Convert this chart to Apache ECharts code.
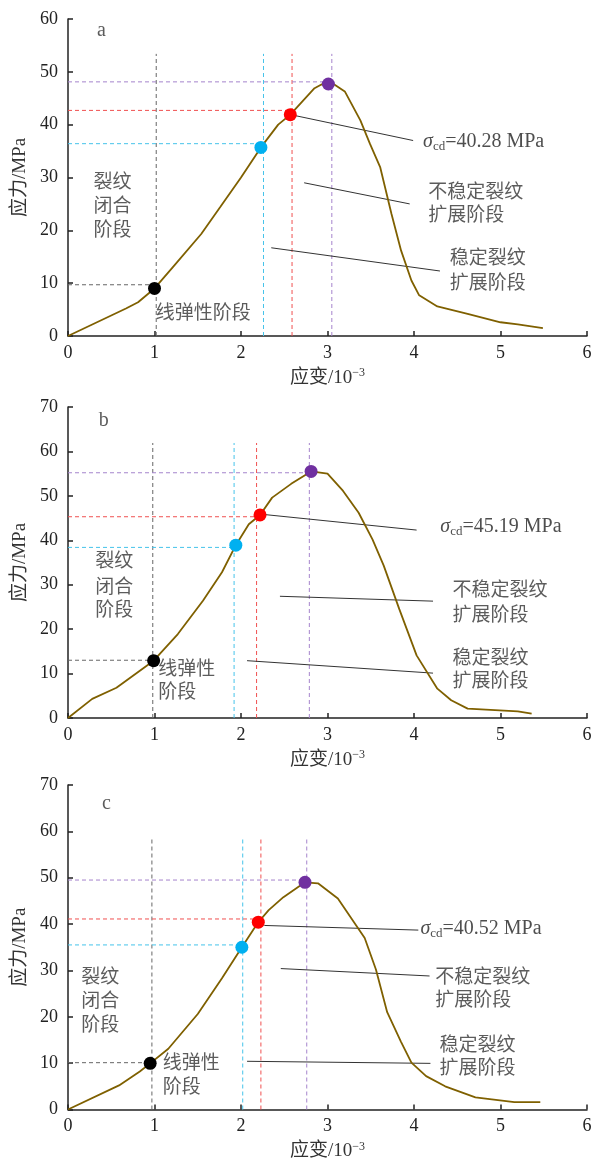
<!DOCTYPE html>
<html>
<head>
<meta charset="utf-8">
<script src="https://cdn.jsdelivr.net/npm/echarts@6/dist/echarts.min.js"></script>
<style>
  html, body { margin: 0; padding: 0; background: #fff; }
  #chart { width: 600px; height: 1162px; }
</style>
</head>
<body>
<div id="chart"></div>
<script>
// 应力-应变曲线 a
const strainA = [0, 0.67, 0.81, 1.0, 1.21, 1.54, 1.76, 2.0, 2.23, 2.43, 2.57, 2.85, 2.93, 3.01, 3.07, 3.2, 3.38, 3.49, 3.61, 3.74, 3.85, 3.97, 4.06, 4.27, 4.62, 5.0, 5.2, 5.49]
const stressA = [0, 5.2, 6.4, 9.0, 13.0, 19.3, 24.4, 30.0, 35.7, 40.0, 41.9, 46.9, 47.6, 47.7, 47.7, 46.3, 40.8, 36.4, 31.9, 23.1, 16.2, 10.5, 7.7, 5.6, 4.2, 2.6, 2.2, 1.5]
// 曲线 b
const strainB = [0, 0.28, 0.56, 0.99, 1.27, 1.56, 1.78, 1.94, 2.09, 2.22, 2.36, 2.58, 2.81, 3.0, 3.18, 3.36, 3.52, 3.65, 3.83, 4.03, 4.27, 4.43, 4.62, 5.2, 5.36]
const stressB = [0, 4.3, 6.8, 12.9, 18.9, 26.4, 32.8, 38.9, 43.6, 45.7, 49.6, 52.7, 55.5, 55.0, 51.1, 46.2, 40.2, 34.3, 24.5, 14.1, 6.6, 4.0, 2.1, 1.5, 1.0]
// 曲线 c
const strainC = [0, 0.59, 0.83, 0.95, 1.16, 1.50, 1.78, 2.01, 2.14, 2.20, 2.32, 2.49, 2.74, 2.89, 3.12, 3.43, 3.56, 3.69, 3.85, 3.97, 4.14, 4.36, 4.71, 5.16, 5.46]
const stressC = [0, 5.2, 8.2, 9.95, 13.1, 20.6, 28.3, 35.0, 38.7, 40.4, 43.0, 45.8, 49.0, 48.8, 45.5, 37.0, 30.2, 21.0, 14.6, 10.1, 7.2, 5.0, 2.6, 1.6, 1.6]

// 特征点：闭合、起裂、损伤(σcd)、峰值
const keyColors = ['#000000', '#00b0f0', '#ff0000', '#7030a0']
const guideColors = ['#666666', '#45c3ea', '#f05050', '#a584cc']
const keyStrainA = [1.0, 2.23, 2.57, 3.01]
const keyStressA = [9.0, 35.7, 41.9, 47.7]
const keyStrainB = [0.99, 1.94, 2.22, 2.81]
const keyStressB = [12.9, 38.9, 45.7, 55.5]
const keyStrainC = [0.95, 2.01, 2.20, 2.74]
const keyStressC = [9.95, 35.0, 40.4, 49.0]

// 虚线位置
const guideXA = [1.02, 2.26, 2.59, 3.05]
const guideYA = [9.7, 36.4, 42.7, 48.1]
const guideXB = [0.98, 1.92, 2.18, 2.79]
const guideYB = [13.0, 38.4, 45.3, 55.2]
const guideXC = [0.97, 2.02, 2.23, 2.76]
const guideYC = [10.1, 35.5, 41.1, 49.5]
const guideTop = [53.4, 61.9, 58.3]

// 引线
const leadersA = [[[2.63, 41.7], [3.99, 37.0]], [[2.73, 29.0], [3.95, 25.0]], [[2.35, 16.7], [4.30, 12.3]]]
const leadersB = [[[2.27, 45.8], [4.03, 42.3]], [[2.45, 27.4], [4.22, 26.3]], [[2.07, 12.9], [4.22, 10.1]]]
const leadersC = [[[2.27, 39.7], [4.05, 38.7]], [[2.46, 30.4], [4.18, 28.8]], [[2.07, 10.4], [4.19, 9.95]]]

const sigmaCd = ['40.28', '45.19', '40.52']
const yMax = [60, 70, 70]

// 文字 [x, y, 文本]
const textsA = [[0.34, 57.7, 'a'], [0.30, 28.9, '裂纹'], [0.30, 24.3, '闭合'], [0.30, 19.7, '阶段'], [1.02, 4.1, '线弹性阶段'],
  [4.17, 27.0, '不稳定裂纹'], [4.17, 22.6, '扩展阶段'], [4.42, 14.4, '稳定裂纹'], [4.42, 9.8, '扩展阶段']]
const textsB = [[0.36, 66.8, 'b'], [0.32, 35.0, '裂纹'], [0.32, 29.2, '闭合'], [0.32, 24.0, '阶段'], [1.05, 10.7, '线弹性'], [1.05, 5.5, '阶段'],
  [4.45, 28.4, '不稳定裂纹'], [4.45, 22.9, '扩展阶段'], [4.45, 13.2, '稳定裂纹'], [4.45, 7.9, '扩展阶段']]
const textsC = [[0.40, 65.9, 'c'], [0.16, 28.3, '裂纹'], [0.16, 23.1, '闭合'], [0.16, 18.0, '阶段'], [1.10, 9.6, '线弹性'], [1.10, 4.6, '阶段'],
  [4.25, 28.3, '不稳定裂纹'], [4.25, 23.2, '扩展阶段'], [4.30, 13.6, '稳定裂纹'], [4.30, 8.7, '扩展阶段']]
const sigmaPos = [[4.11, 36.7], [4.31, 42.9], [4.08, 38.9]]

const panels = [
  {strain: strainA, stress: stressA, kx: keyStrainA, ky: keyStressA, gx: guideXA, gy: guideYA, leaders: leadersA, texts: textsA},
  {strain: strainB, stress: stressB, kx: keyStrainB, ky: keyStressB, gx: guideXB, gy: guideYB, leaders: leadersB, texts: textsB},
  {strain: strainC, stress: stressC, kx: keyStrainC, ky: keyStressC, gx: guideXC, gy: guideYC, leaders: leadersC, texts: textsC}
]

const serif = '"Liberation Serif", "Times New Roman", serif'
const cjk = '"Liberation Serif", "Noto Sans CJK SC", serif'

const grids = [
  {left: 68, width: 519, top: 19, height: 317},
  {left: 68, width: 519, top: 407, height: 311},
  {left: 68, width: 519, top: 785, height: 328}
]

const xAxes = []
const yAxes = []
const series = []

panels.forEach((p, i) => {
  xAxes.push({
    type: 'value', gridIndex: i, min: 0, max: 6, interval: 1,
    name: '应变/10{sup|−3}', nameLocation: 'middle', nameGap: 31,
    nameTextStyle: {fontFamily: cjk, fontSize: 19, color: '#333',
      rich: {sup: {fontFamily: serif, fontSize: 12, color: '#333', padding: [0, 0, 10, 0]}}},
    axisLine: {lineStyle: {color: '#222', width: 1.5}},
    axisTick: {inside: true, length: 5, lineStyle: {color: '#222', width: 1.5}},
    axisLabel: {fontFamily: serif, fontSize: 18, color: '#222', margin: 8},
    splitLine: {show: false}
  })
  yAxes.push({
    type: 'value', gridIndex: i, min: 0, max: yMax[i], interval: 10,
    name: '应力/MPa', nameLocation: 'middle', nameGap: 35,
    nameTextStyle: {fontFamily: cjk, fontSize: 19, color: '#333'},
    axisLine: {show: true, lineStyle: {color: '#222', width: 1.5}},
    axisTick: {show: true, inside: true, length: 5, lineStyle: {color: '#222', width: 1.5}},
    axisLabel: {fontFamily: serif, fontSize: 18, color: '#222', margin: 10},
    splitLine: {show: false}
  })

  // 虚线
  p.gx.forEach((gx, k) => {
    const dashStyle = {color: guideColors[k], width: 1, type: [4, 3]}
    series.push({
      type: 'line', xAxisIndex: i, yAxisIndex: i, symbol: 'none', silent: true, z: 1,
      data: [[0, p.gy[k]], [gx, p.gy[k]]], lineStyle: dashStyle
    })
    series.push({
      type: 'line', xAxisIndex: i, yAxisIndex: i, symbol: 'none', silent: true, z: 1,
      data: [[gx, 0], [gx, guideTop[i]]], lineStyle: dashStyle
    })
  })

  // 引线
  p.leaders.forEach(seg => {
    series.push({
      type: 'line', xAxisIndex: i, yAxisIndex: i, symbol: 'none', silent: true, z: 2,
      data: seg, lineStyle: {color: '#333', width: 1}
    })
  })

  // 应力应变曲线
  series.push({
    type: 'line', xAxisIndex: i, yAxisIndex: i, symbol: 'none', z: 3,
    data: p.strain.map((x, k) => [x, p.stress[k]]),
    lineStyle: {color: '#7f6000', width: 1.8}
  })

  // 特征点
  series.push({
    type: 'scatter', xAxisIndex: i, yAxisIndex: i, symbolSize: 13, z: 5,
    data: p.kx.map((x, k) => ({value: [x, p.ky[k]], itemStyle: {color: keyColors[k], opacity: 1}}))
  })

  // 文字
  series.push({
    type: 'scatter', xAxisIndex: i, yAxisIndex: i, symbolSize: 1, silent: true, z: 6,
    itemStyle: {color: 'transparent'},
    data: p.texts.map(t => ({
      value: [t[0], t[1]],
      label: {
        show: true, position: [0, 0], align: 'left', verticalAlign: 'middle',
        formatter: t[2], fontFamily: t[2].length === 1 ? serif : cjk,
        fontSize: t[2].length === 1 ? 20 : 19, color: '#333'
      }
    }))
  })
  series.push({
    type: 'scatter', xAxisIndex: i, yAxisIndex: i, symbolSize: 1, silent: true, z: 6,
    itemStyle: {color: 'transparent'},
    data: [{
      value: sigmaPos[i],
      label: {
        show: true, position: [0, 0], align: 'left', verticalAlign: 'middle',
        formatter: '{s|σ}{sub|cd}{n|=' + sigmaCd[i] + ' MPa}',
        rich: {
          s: {fontFamily: serif, fontStyle: 'italic', fontSize: 20, color: '#222'},
          sub: {fontFamily: serif, fontSize: 13, color: '#222', padding: [10, 0, 0, 0]},
          n: {fontFamily: serif, fontSize: 20, color: '#222'}
        }
      }
    }]
  })
})

const chart = echarts.init(document.getElementById('chart'))
chart.setOption({
  animation: false,
  backgroundColor: '#fff',
  grid: grids,
  xAxis: xAxes,
  yAxis: yAxes,
  series: series
})
</script>
</body>
</html>
